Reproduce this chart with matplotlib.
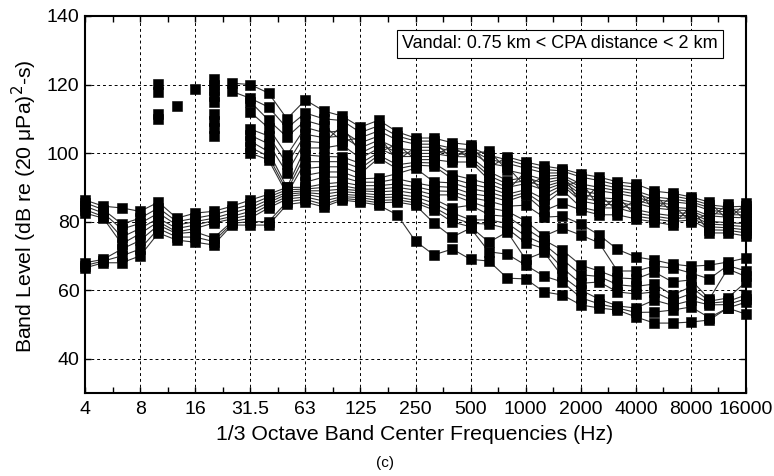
import matplotlib
matplotlib.use('Agg')
import numpy as np
import matplotlib.pyplot as plt

nan = np.nan

# 1/3 octave band centre frequencies (Hz)
bands = ['4', '5', '6.3', '8', '10', '12.5', '16', '20', '25', '31.5', '40', '50',
         '63', '80', '100', '125', '160', '200', '250', '315', '400', '500', '630',
         '800', '1000', '1250', '1600', '2000', '2500', '3150', '4000', '5000',
         '6300', '8000', '10000', '12500', '16000']
tick_labels = ['4', '8', '16', '31.5', '63', '125', '250', '500', '1000', '2000',
               '4000', '8000', '16000']
y_ticks = [40, 60, 80, 100, 120, 140]

# Band levels, dB re (20 uPa)^2-s  (one list per vessel passage)
a01 = [nan, nan, nan, nan, nan, nan, 118.8, nan, 120.4, 120.0, 117.5, 110.0, 115.5, 112.3, 110.8, 107.6, 109.6, 106.2, 104.4, 104.4, 103.0, 102.4, 95.8, 98.9, 97.4, 96.2, 95.4, 93.9, 93.0, 91.6, 91.0, 88.9, 88.3, 87.2, 85.7, 80.5, 85.4]
a02 = [nan, nan, nan, nan, nan, nan, nan, nan, 118.0, 116.0, 113.4, 107.3, 111.7, 110.0, 109.5, 106.0, 108.0, 105.0, 103.5, 103.5, 98.2, 101.7, 99.4, 98.0, 96.5, 95.2, 94.8, 93.0, 92.0, 90.7, 90.0, 83.2, 87.5, 86.5, 84.9, 84.3, 84.5]
a03 = [nan, nan, nan, nan, 120.2, nan, nan, 121.6, nan, 115.0, 109.6, 104.7, 109.5, 108.0, 103.5, 104.5, 106.5, 103.8, 102.6, 102.6, 101.4, 101.0, 98.2, 97.0, 95.6, 94.2, 94.2, 85.0, 91.0, 89.8, 89.0, 87.2, 86.6, 85.8, 84.1, 83.6, 83.6]
a04 = [nan, nan, nan, nan, 117.8, nan, nan, 120.0, nan, 112.0, 107.3, 99.4, 107.5, 106.0, 106.5, 103.0, 105.0, 97.8, 101.7, 101.7, 100.6, 100.3, 97.0, 96.0, 90.2, 93.2, 93.6, 91.0, 90.0, 89.0, 88.1, 86.4, 85.8, 85.2, 83.3, 82.8, 82.8]
a05 = [nan, nan, nan, nan, nan, 113.6, nan, 118.3, nan, 107.0, 105.0, 96.8, 105.5, 104.5, 105.0, 101.5, 103.8, 101.4, 100.8, 100.8, 99.8, 99.6, 100.6, 95.0, 93.8, 92.2, 93.0, 90.0, 89.0, 88.2, 87.2, 85.6, 85.0, 79.9, 82.5, 82.0, 82.0]
a06 = [nan, nan, nan, nan, 111.5, nan, nan, 116.6, nan, 105.2, 102.7, 94.2, 103.5, 103.0, 108.0, 100.0, 102.6, 100.2, 99.9, 99.9, 99.0, 98.9, 94.6, 92.0, 92.9, 91.2, 92.4, 89.0, 88.0, 83.0, 86.3, 84.8, 84.2, 83.8, 81.7, 81.3, 81.1]
a07 = [nan, nan, nan, nan, 110.0, nan, nan, 114.9, nan, 103.5, 100.4, 90.0, 101.5, 101.5, 102.4, 98.5, 101.4, 99.0, 99.0, 99.0, 102.2, 98.1, 93.4, 91.0, 92.0, 90.2, 91.8, 88.0, 87.0, 86.6, 85.4, 84.0, 83.4, 83.2, 80.9, 85.1, 80.2]
a08 = [nan, nan, nan, nan, nan, nan, nan, 111.4, nan, 101.7, 99.0, 89.0, 99.5, 99.0, 98.9, 97.0, 100.2, 102.6, 98.1, 98.1, 97.4, 97.4, 92.2, 90.0, 91.1, 89.2, 91.2, 87.0, 86.0, 85.8, 84.5, 88.0, 82.5, 82.5, 80.1, 79.7, 79.4]
a09 = [nan, nan, nan, nan, nan, nan, nan, 109.3, nan, 100.0, 98.0, 88.0, 97.5, 97.5, 97.5, 95.5, 99.4, 96.6, 97.3, 97.1, 93.7, 92.4, 91.0, 89.0, 94.7, 88.0, 90.6, 86.0, 85.0, 85.0, 83.5, 82.4, 81.7, 81.8, 79.3, 79.0, 78.5]
a10 = [nan, nan, nan, nan, nan, nan, nan, 107.2, nan, nan, nan, nan, 95.5, 96.0, 96.0, 94.0, 98.6, 95.4, 96.5, 96.2, 92.5, 91.0, 89.8, 88.0, 89.3, 86.6, 90.0, 92.0, 84.0, 84.0, 82.5, 81.6, 80.8, 81.2, 78.5, 78.2, 77.6]
a11 = [nan, nan, nan, nan, nan, nan, nan, 105.0, nan, nan, nan, nan, 93.5, 94.5, 94.5, 92.5, 92.7, 94.0, 95.6, 91.6, 91.3, 89.6, 88.6, 87.0, 88.5, 85.0, 89.2, 84.2, 83.0, 87.4, 81.6, 80.8, 80.0, 80.5, 77.6, 77.5, 76.7]
a12 = [nan, nan, nan, nan, nan, nan, nan, nan, nan, nan, nan, nan, 91.5, 93.0, 93.0, 91.5, 91.5, 92.5, 91.3, 90.3, 90.0, 88.2, 87.4, 86.0, 87.8, 83.2, 85.4, 83.4, 82.0, 82.0, 80.8, 79.9, 79.0, 84.5, 76.7, 76.7, 75.8]

b01 = [86.3, 84.5, 84.0, 83.0, 85.7, 81.0, 82.5, 83.0, 84.5, 86.3, 88.0, 90.0, 90.0, 91.0, 91.5, 90.5, 90.5, 91.0, 90.2, 89.0, 88.8, 87.0, 86.0, 84.5, 84.8, 81.3, 81.6, 79.3, 76.1, 71.9, 69.7, 68.8, 67.6, 67.0, 67.3, 68.2, 69.4]
b02 = [85.5, 83.5, 79.3, 81.0, 84.0, 80.0, 81.0, 82.0, 83.5, 85.0, 87.2, 89.3, 89.5, 90.0, 90.5, 89.5, 89.5, 90.0, 89.2, 87.8, 87.8, 85.8, 84.0, 83.0, 80.2, 75.8, 78.1, 76.1, 73.8, 65.6, 65.6, 67.0, 66.5, 65.0, 63.3, 67.2, 65.6]
b03 = [84.5, 82.5, 77.8, 79.5, 82.5, 79.0, 80.0, 81.0, 82.5, 84.0, 86.4, 88.6, 89.0, 89.0, 89.5, 89.0, 88.7, 89.0, 88.2, 86.6, 84.0, 84.8, 82.0, 81.5, 78.0, 74.6, 71.7, 67.3, 65.6, 63.6, 63.3, 65.3, 62.4, 63.0, 57.4, 66.2, 64.0]
b04 = [83.5, 81.5, 75.5, 78.0, 81.0, 78.0, 79.0, 80.3, 81.5, 83.0, 85.6, 88.0, 88.5, 88.0, 88.8, 88.3, 87.8, 88.0, 87.2, 85.4, 82.6, 80.5, 80.5, 79.5, 75.8, 73.4, 69.0, 64.5, 64.0, 61.6, 61.1, 61.8, 58.6, 61.0, 56.8, 57.7, 62.4]
b05 = [82.5, 81.0, 73.5, 76.5, 80.0, 77.0, 78.0, 79.6, 80.8, 82.0, 84.8, 87.3, 88.0, 87.0, 88.0, 87.6, 87.0, 87.2, 86.2, 84.2, 81.2, 79.5, 79.3, 78.0, 73.8, 72.2, 66.5, 62.0, 62.4, 59.5, 58.9, 59.5, 57.0, 59.0, 56.2, 56.7, 58.6]
b06 = [68.0, 69.0, 72.0, 74.5, 79.0, 76.5, 77.0, 75.2, 80.0, 81.0, 84.0, 86.6, 87.2, 86.0, 87.3, 87.0, 86.2, 86.4, 85.5, 83.4, 79.9, 78.5, 74.0, 77.0, 69.0, 71.1, 64.0, 60.0, 57.4, 55.4, 54.8, 57.1, 55.6, 57.0, 55.7, 55.8, 57.5]
b07 = [67.2, 68.5, 70.0, 72.0, 78.0, 75.5, 75.5, 74.2, 79.5, 80.0, 80.0, 85.8, 86.5, 85.0, 86.8, 86.3, 85.5, 85.7, 84.8, 79.6, 75.5, 78.1, 71.2, 70.5, 67.3, 64.1, 62.4, 57.8, 56.0, 54.8, 53.5, 53.6, 54.2, 55.1, 52.0, 54.8, 56.5]
b08 = [66.5, 68.0, 68.0, 70.0, 76.7, 74.6, 74.0, 73.2, 79.0, 79.0, 79.0, 85.0, 85.7, 84.3, 86.3, 85.7, 84.8, 82.0, 74.3, 70.3, 72.0, 69.0, 68.5, 63.5, 63.3, 59.5, 58.6, 55.7, 54.8, 54.2, 52.2, 50.4, 50.4, 50.7, 51.3, 54.8, 53.0]

series = [b01, b02, b03, b04, b05, b06, b07, b08,
          a01, a02, a03, a04, a05, a06, a07, a08, a09, a10, a11, a12]

FONT = 'Liberation Sans'
plt.rcParams['font.family'] = [FONT, 'DejaVu Sans']

W, H = 774, 476
fig = plt.figure(figsize=(W / 100, H / 100), dpi=100)
L, R, T, B = 85, 746, 16, 393
ax = fig.add_axes([L / W, 1 - B / H, (R - L) / W, (B - T) / H])

x = np.arange(len(bands))
for s in series:
    ax.plot(x, s, '-', color='#333333', lw=0.8, zorder=3, clip_on=False)
for s in series:
    ax.plot(x, s, 's', ms=7.8, mfc='black', mec='black', mew=0.4,
            zorder=4, clip_on=False)

ax.set_xlim(0, len(bands) - 1)
ax.set_ylim(30, 140)
major_idx = [bands.index(t) for t in tick_labels]
ax.set_xticks(major_idx)
ax.set_xticklabels(tick_labels)
ax.set_xticks(np.array(major_idx[:-1]) + 1.5, minor=True)
ax.set_yticks(y_ticks)
ax.set_yticklabels([str(v) for v in y_ticks])
ax.tick_params(which='both', direction='in', top=True, right=True,
               length=4, width=1.0, color='black')
ax.tick_params(axis='x', which='major', labelsize=14, pad=6)
ax.tick_params(axis='y', which='major', labelsize=14, pad=4)
ax.grid(True, which='major', linestyle=(0, (3, 3)), color='black', linewidth=0.7)
ax.set_axisbelow(True)
for sp in ax.spines.values():
    sp.set_linewidth(1.5)
    sp.set_zorder(5)

ax.text(0.719, 0.926, 'Vandal: 0.75 km < CPA distance < 2 km', transform=ax.transAxes,
        ha='center', va='center', fontsize=13, zorder=6,
        bbox=dict(boxstyle='square,pad=0.3', fc='white', ec='black', lw=0.8))

fig.text(415 / W, 1 - 435 / H, '1/3 Octave Band Center Frequencies (Hz)',
         ha='center', va='center', fontsize=15.3)
fig.text(24 / W, 1 - 206 / H, 'Band Level (dB re (20 μPa)$^2$-s)',
         ha='center', va='center', rotation=90, fontsize=15.3)
fig.text(385 / W, 1 - 463 / H, '(c)', ha='center', va='center', fontsize=11)

fig.savefig('out.png', dpi=100)
